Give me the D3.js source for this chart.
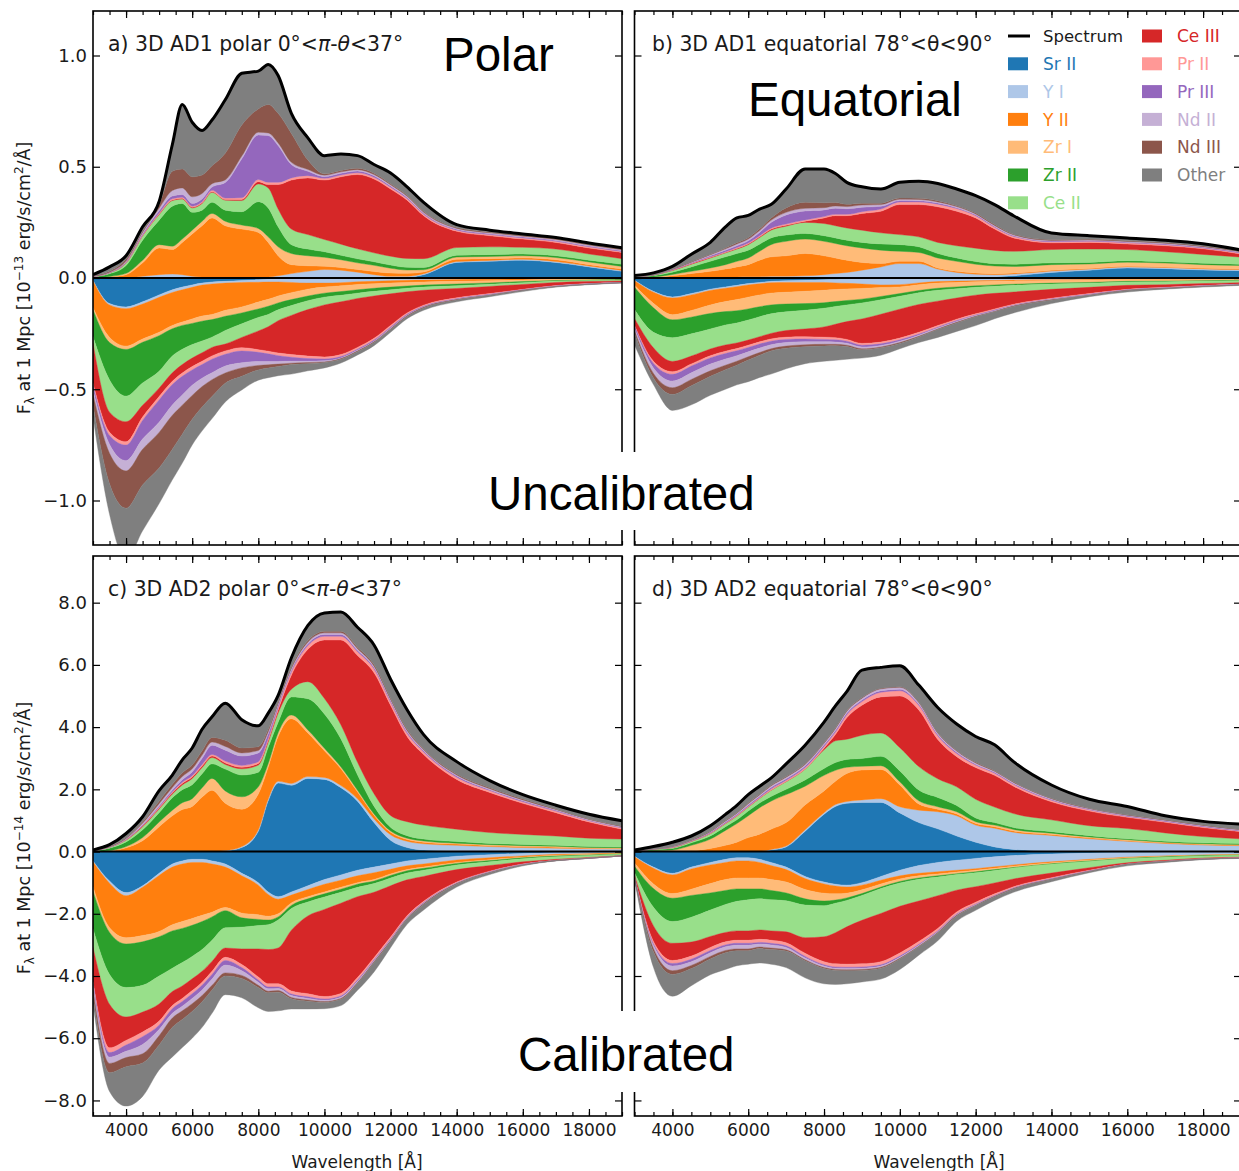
<!DOCTYPE html>
<html>
<head>
<meta charset="utf-8">
<script src="https://cdnjs.cloudflare.com/ajax/libs/d3/7.8.5/d3.min.js"></script>
<style>
body { margin: 0; background: #fff; }
svg text { font-family: "DejaVu Sans", Verdana, sans-serif; }
</style>
</head>
<body>
<svg id="fig" width="1239" height="1171"></svg>
<script>
// wavelength grid [Angstrom]
var wavelength = [3000,3500,4000,4500,5000,5400,5700,6000,6300,6600,7000,7500,8000,8300,8600,9000,9500,10000,10500,11000,11500,12000,12500,13000,14000,15000,16000,17000,18000,19000];

var species = ["Sr II","Y I","Y II","Zr I","Zr II","Ce II","Ce III","Pr II","Pr III","Nd II","Nd III","Other"];
var colors  = ["#1f77b4","#aec7e8","#ff7f0e","#ffbb78","#2ca02c","#98df8a","#d62728","#ff9896","#9467bd","#c5b0d5","#8c564b","#7f7f7f"];

var xTicks = [4000,6000,8000,10000,12000,14000,16000,18000];
var yTicksUncal = [-1.0,-0.5,0,0.5,1.0];
var yTicksCal = [-8,-6,-4,-2,0,2,4,6,8];

// each block: one row per species (same order as `species`), one value per wavelength
// a) 3D AD1 polar, emission (positive) [1e-13]
var ad1PolarEm = [
  [0,0,0,0,0,0,0,0,0,0,0,0,0,0,0,0,0,0,0,0,0,0,.003,.015,.07,.075,.08,.07,.05,.03],
  [0,0,0,.008,.015,.018,.015,.008,.005,.005,.005,.005,.005,.005,.01,.02,.03,.038,.035,.026,.015,.008,.005,.004,.004,.004,.004,.004,.004,.004],
  [0,.005,.015,.06,.12,.11,.145,.19,.23,.265,.23,.215,.2,.155,.09,.04,.025,.015,.012,.012,.014,.014,.013,.008,.01,.008,.006,.008,.006,.006],
  [0,.002,.006,.012,.015,.015,.015,.017,.02,.02,.02,.018,.018,.025,.04,.05,.045,.04,.035,.03,.028,.022,.015,.01,.01,.01,.01,.01,.012,.012],
  [.005,.012,.035,.09,.11,.18,.16,.08,.05,.05,.05,.06,.12,.13,.09,.04,.03,.025,.02,.018,.016,.014,.012,.01,.008,.008,.008,.008,.008,.01],
  [.002,.005,.012,.02,.025,.025,.02,.02,.03,.045,.045,.05,.08,.09,.08,.07,.065,.055,.05,.045,.04,.04,.04,.04,.035,.035,.03,.03,.028,.025],
  [0,0,0,0,.003,.003,.003,.003,.003,.003,.003,.005,.01,.015,.11,.22,.255,.267,.303,.334,.332,.302,.262,.193,.073,.05,.037,.03,.027,.028],
  [0,0,.002,.003,.004,.005,.005,.005,.005,.006,.006,.008,.01,.01,.01,.01,.01,.008,.008,.008,.008,.008,.007,.006,.005,.005,.005,.005,.005,.004],
  [0,.001,.003,.006,.01,.012,.012,.012,.012,.015,.07,.175,.2,.21,.165,.06,.02,.008,.008,.008,.007,.006,.005,.005,.004,.004,.004,.004,.004,.004],
  [0,.001,.003,.006,.012,.025,.03,.03,.025,.015,.012,.012,.012,.012,.012,.01,.008,.006,.006,.006,.005,.005,.005,.004,.004,.004,.004,.004,.004,.004],
  [.002,.004,.009,.005,.015,.087,.085,.09,.083,.08,.12,.14,.105,.128,.133,.13,.042,.006,.006,.006,.006,.005,.005,.005,.004,.004,.004,.004,.004,.004],
  [.006,.02,.015,.02,.015,.12,.29,.245,.2,.206,.24,.232,.17,.18,.17,.09,.1,.082,.074,.057,.039,.048,.038,.04,.013,.008,.006,.005,.005,.005]
];
// a) absorption (plotted negative)
var ad1PolarAb = [
  [.01,.115,.13,.107,.076,.053,.041,.031,.023,.018,.015,.011,.008,.006,.005,.004,.003,.003,.003,.002,.002,.002,.002,.002,.002,.002,.001,.001,.001,.001],
  [.003,.006,.008,.01,.011,.012,.012,.011,.009,.009,.008,.009,.011,.012,.013,.016,.02,.02,.018,.015,.013,.01,.008,.007,.005,.004,.003,.002,.002,.001],
  [.12,.146,.168,.157,.157,.148,.145,.142,.139,.137,.122,.11,.089,.078,.063,.046,.027,.018,.014,.012,.011,.011,.01,.009,.008,.006,.005,.003,.002,.002],
  [.01,.023,.015,.015,.015,.015,.015,.02,.023,.023,.027,.027,.031,.031,.031,.031,.031,.027,.026,.024,.02,.018,.016,.014,.012,.01,.007,.005,.004,.003],
  [.12,.168,.21,.183,.16,.122,.107,.095,.089,.079,.064,.049,.038,.037,.031,.027,.021,.018,.017,.015,.014,.012,.01,.009,.008,.006,.005,.003,.002,.002],
  [.03,.145,.115,.1,.076,.076,.069,.061,.053,.046,.061,.061,.061,.055,.049,.044,.04,.035,.029,.024,.021,.018,.016,.014,.012,.01,.008,.006,.005,.004],
  [.18,.09,.09,.053,.038,.038,.038,.038,.038,.038,.031,.046,.084,.11,.145,.176,.209,.234,.237,.22,.19,.142,.095,.067,.042,.032,.022,.014,.009,.006],
  [.01,.015,.015,.015,.015,.015,.015,.015,.015,.015,.015,.015,.012,.012,.012,.012,.011,.009,.009,.008,.008,.008,.006,.005,.004,.003,.002,.002,.001,.001],
  [.02,.04,.07,.084,.1,.092,.084,.069,.061,.061,.053,.053,.041,.034,.026,.018,.012,.008,.006,.005,.005,.005,.004,.003,.002,.002,.001,.001,.001,.001],
  [.02,.04,.046,.046,.046,.046,.046,.046,.038,.031,.031,.023,.018,.015,.012,.009,.006,.005,.003,.003,.003,.003,.003,.002,.002,.002,.001,.001,.001,0],
  [.05,.137,.168,.16,.16,.153,.13,.107,.092,.076,.046,.038,.02,.015,.011,.006,.005,.003,.003,.003,.003,.003,.003,.003,.002,.001,.001,.001,0,0],
  [.05,.137,.23,.206,.16,.137,.13,.115,.107,.099,.084,.061,.046,.043,.041,.043,.032,.024,.017,.015,.014,.012,.01,.01,.008,.006,.005,.002,.002,.001]
];
// b) 3D AD1 equatorial, emission [1e-13]
var ad1EquatEm = [
  [0,0,0,0,0,0,0,0,0,0,0,0,0,0,0,0,0,0,0,0,0,.002,.005,.01,.025,.035,.045,.042,.036,.033],
  [0,0,.002,.003,.004,.005,.005,.006,.006,.008,.008,.01,.015,.02,.025,.035,.05,.065,.065,.04,.025,.015,.01,.008,.006,.005,.005,.005,.005,.005],
  [0,.002,.008,.017,.026,.035,.045,.054,.074,.087,.092,.1,.085,.07,.055,.035,.015,.01,.01,.005,.005,.005,.004,.004,.004,.003,.003,.003,.003,.003],
  [0,.002,.006,.01,.015,.02,.025,.03,.04,.055,.065,.065,.065,.065,.065,.065,.06,.045,.04,.045,.045,.04,.035,.03,.025,.02,.018,.017,.016,.015],
  [.003,.006,.01,.02,.03,.035,.035,.035,.032,.03,.028,.025,.025,.025,.025,.025,.028,.03,.025,.02,.015,.012,.01,.01,.008,.007,.007,.006,.006,.006],
  [.002,.004,.008,.012,.015,.018,.02,.025,.03,.035,.04,.05,.055,.055,.055,.055,.05,.045,.045,.05,.055,.06,.06,.058,.06,.06,.05,.045,.04,.032],
  [0,0,.001,.002,.002,.002,.003,.003,.003,.004,.004,.005,.025,.045,.055,.075,.097,.135,.145,.16,.155,.136,.096,.06,.03,.03,.025,.027,.025,.014],
  [0,0,.001,.002,.003,.003,.004,.004,.005,.005,.006,.006,.006,.006,.006,.008,.01,.012,.012,.012,.012,.01,.008,.007,.005,.005,.005,.005,.004,.004],
  [0,0,.002,.003,.005,.007,.008,.01,.015,.025,.04,.04,.03,.028,.025,.02,.012,.006,.005,.005,.004,.004,.004,.003,.003,.003,.003,.003,.003,.003],
  [0,0,.001,.002,.004,.006,.008,.008,.008,.01,.012,.012,.01,.01,.01,.01,.008,.006,.006,.005,.005,.004,.004,.004,.003,.003,.003,.003,.003,.003],
  [0,0,.001,.002,.003,.004,.005,.006,.008,.01,.02,.028,.022,.015,.01,.008,.006,.005,.005,.005,.004,.004,.004,.003,.003,.003,.003,.003,.003,.002],
  [.006,.009,.012,.034,.053,.095,.112,.1,.089,.061,.085,.149,.152,.131,.099,.074,.064,.071,.077,.078,.075,.078,.09,.083,.03,.016,.013,.011,.01,.006]
];
// b) absorption
var ad1EquatAb = [
  [.01,.06,.085,.07,.05,.04,.033,.025,.02,.015,.012,.01,.008,.007,.006,.005,.005,.005,.004,.004,.004,.004,.004,.003,.003,.003,.002,.002,.002,.002],
  [.002,.004,.005,.006,.006,.006,.006,.006,.006,.006,.008,.01,.012,.015,.018,.022,.026,.025,.018,.012,.01,.008,.007,.006,.005,.004,.003,.003,.002,.002],
  [.02,.05,.075,.07,.065,.06,.058,.055,.05,.047,.044,.04,.035,.03,.025,.02,.012,.01,.008,.007,.006,.005,.004,.004,.003,.003,.002,.002,.002,.001],
  [.01,.02,.023,.03,.038,.045,.05,.053,.053,.053,.053,.055,.056,.054,.052,.048,.04,.03,.026,.023,.02,.018,.016,.015,.012,.01,.008,.007,.006,.005],
  [.1,.11,.08,.075,.07,.06,.055,.05,.045,.04,.035,.03,.025,.022,.02,.017,.015,.012,.01,.009,.008,.007,.006,.005,.004,.004,.003,.003,.002,.002],
  [.04,.07,.107,.1,.09,.09,.09,.09,.09,.088,.084,.084,.084,.08,.075,.072,.065,.058,.053,.049,.042,.035,.032,.03,.024,.018,.015,.013,.011,.009],
  [.03,.06,.046,.035,.03,.028,.025,.023,.023,.025,.03,.035,.046,.06,.08,.11,.125,.13,.125,.11,.095,.084,.07,.055,.04,.028,.018,.012,.009,.006],
  [.005,.01,.012,.01,.01,.01,.01,.01,.01,.01,.01,.01,.01,.01,.008,.008,.008,.008,.008,.007,.006,.005,.005,.004,.003,.003,.002,.002,.001,.001],
  [.01,.02,.03,.03,.028,.025,.022,.02,.018,.016,.014,.012,.01,.01,.009,.008,.007,.006,.005,.004,.004,.003,.003,.002,.002,.002,.001,.001,.001,.001],
  [.01,.025,.03,.03,.03,.028,.025,.022,.02,.018,.016,.014,.012,.01,.009,.008,.007,.006,.005,.004,.004,.003,.003,.002,.002,.002,.001,.001,.001,.001],
  [.01,.02,.03,.028,.025,.02,.018,.015,.012,.01,.01,.009,.008,.007,.006,.005,.004,.004,.003,.003,.003,.002,.002,.002,.002,.001,.001,.001,.001,.001],
  [.053,.03,.072,.086,.085,.088,.088,.097,.1,.104,.092,.076,.068,.065,.057,.037,.033,.024,.025,.035,.038,.04,.031,.029,.015,.006,.007,.003,.003,.002]
];
// c) 3D AD2 polar, emission [1e-14]
var ad2PolarEm = [
  [0,0,0,0,0,0,0,0,0,0,.02,.13,.65,1.63,2.2,2.13,2.35,2.32,2.05,1.62,.93,.36,.13,.05,.02,.01,.01,.01,.01,.01],
  [0,0,0,0,0,0,0,0,0,0,.01,.03,.05,.06,.06,.06,.06,.06,.07,.08,.12,.18,.2,.2,.18,.15,.12,.1,.08,.07],
  [0,.02,.12,.35,.8,1.15,1.35,1.45,1.75,1.97,1.52,1.2,1.15,1.03,1.44,2.08,1.4,.86,.54,.22,.12,.08,.06,.05,.04,.03,.03,.03,.02,.02],
  [0,.01,.04,.1,.15,.18,.22,.25,.3,.38,.4,.4,.23,.11,.12,.12,.1,.08,.06,.05,.04,.04,.04,.04,.03,.03,.03,.03,.02,.02],
  [.02,.08,.15,.25,.3,.4,.42,.45,.45,.47,.7,.7,.47,.52,.34,.58,1.0,1.1,.9,.5,.25,.12,.08,.06,.05,.04,.04,.03,.03,.03],
  [.01,.03,.06,.1,.12,.12,.15,.2,.2,.2,.15,.2,.23,.17,.29,.25,.55,.5,.45,.4,.4,.38,.45,.45,.4,.35,.32,.3,.27,.25],
  [0,0,.01,.02,.03,.04,.05,.05,.05,.05,.05,.05,.05,.06,.1,.45,1.04,1.88,2.73,3.43,3.89,3.54,2.74,2.27,1.6,1.29,1.0,.75,.52,.32],
  [0,0,.01,.02,.03,.03,.04,.04,.05,.05,.06,.06,.06,.06,.08,.1,.12,.12,.12,.12,.12,.1,.1,.08,.07,.06,.05,.05,.04,.04],
  [0,0,.01,.02,.04,.06,.08,.12,.2,.3,.35,.3,.28,.15,.08,.06,.06,.06,.06,.05,.05,.05,.05,.04,.04,.03,.03,.03,.02,.02],
  [0,.01,.02,.05,.07,.08,.1,.1,.1,.1,.12,.1,.08,.06,.05,.05,.05,.05,.05,.05,.04,.04,.04,.03,.03,.03,.03,.02,.02,.02],
  [0,.01,.02,.04,.08,.1,.12,.12,.14,.15,.2,.16,.12,.08,.05,.05,.05,.05,.05,.05,.05,.04,.04,.03,.03,.03,.03,.02,.02,.02],
  [.02,.06,.14,.17,.34,.3,.42,.55,.69,.66,1.19,.91,.67,.52,.21,.3,.49,.59,.62,.64,.63,.61,.63,.46,.4,.23,.14,.12,.15,.17]
];
// c) absorption
var ad2PolarAb = [
  [.3,.95,1.32,1.1,.7,.4,.3,.25,.25,.3,.4,.7,1.0,1.3,1.45,1.3,1.1,.9,.75,.6,.5,.4,.3,.25,.15,.1,.06,.04,.03,.02],
  [.03,.07,.1,.05,.07,.1,.1,.1,.1,.1,.1,.08,.08,.08,.08,.1,.12,.15,.17,.18,.18,.17,.16,.15,.12,.1,.08,.05,.04,.02],
  [.8,1.43,1.35,1.55,1.8,1.85,1.85,1.8,1.7,1.55,1.3,1.2,.95,.7,.47,.25,.23,.25,.23,.22,.22,.15,.12,.1,.08,.06,.04,.03,.02,.02],
  [.15,.15,.2,.2,.17,.2,.22,.22,.2,.15,.1,.15,.15,.12,.1,.08,.07,.06,.06,.05,.05,.05,.04,.04,.03,.03,.02,.02,.02,.01],
  [1.2,1.35,1.4,1.4,1.26,1.2,1.1,1.0,.9,.75,.55,.3,.2,.15,.1,.1,.1,.1,.1,.1,.08,.08,.07,.06,.05,.04,.03,.03,.02,.02],
  [.6,.96,.95,.86,.9,.75,.75,.72,.7,.68,.65,.7,.75,.8,.9,.7,.45,.4,.35,.3,.28,.25,.22,.2,.15,.12,.1,.08,.06,.04],
  [1.1,1.4,.75,.64,.55,.45,.4,.38,.35,.32,.3,.5,.9,1.1,1.15,1.95,2.5,2.8,2.9,2.6,2.1,1.65,1.15,.8,.4,.18,.07,.03,.02,.01],
  [.08,.15,.15,.15,.13,.1,.1,.1,.1,.1,.1,.1,.1,.1,.1,.1,.1,.08,.08,.08,.07,.06,.05,.04,.03,.02,.01,.01,.005,0],
  [.06,.15,.2,.25,.14,.15,.15,.15,.15,.15,.15,.1,.07,.06,.05,.05,.05,.04,.04,.04,.03,.03,.02,.02,.01,.01,.01,0,0,0],
  [.12,.2,.2,.3,.2,.15,.15,.17,.18,.2,.25,.15,.1,.08,.07,.06,.05,.04,.04,.04,.03,.03,.02,.02,.01,.01,.01,0,0,0],
  [.2,.3,.3,.3,.3,.3,.28,.25,.2,.15,.1,.1,.07,.05,.05,.04,.04,.03,.03,.03,.03,.02,.02,.02,.01,.01,0,0,0,0],
  [.26,.6,1.26,1.07,.8,.95,.9,.86,.82,.75,.6,.62,.65,.6,.6,.33,.25,.2,.2,.22,.3,.2,.17,.18,.1,.06,.03,.01,.005,0]
];
// d) 3D AD2 equatorial, emission [1e-14]
var ad2EquatEm = [
  [0,0,0,0,0,0,0,0,0,.05,.15,.65,1.2,1.45,1.55,1.58,1.58,1.24,.93,.73,.5,.3,.15,.07,.02,.01,.01,.01,.01,.01],
  [0,0,0,0,0,0,0,0,.01,.02,.03,.05,.05,.06,.06,.08,.12,.2,.4,.55,.65,.55,.6,.55,.5,.4,.32,.25,.2,.18],
  [0,.01,.02,.03,.1,.2,.3,.45,.55,.65,.75,.8,.7,.75,.9,.96,.94,.7,.2,.08,.06,.05,.05,.04,.03,.03,.02,.02,.02,.02],
  [0,.02,.03,.17,.3,.48,.6,.7,.85,.9,.9,.6,.5,.35,.2,.12,.12,.1,.1,.08,.07,.06,.05,.05,.04,.03,.03,.02,.02,.02],
  [.01,.03,.05,.08,.1,.12,.12,.15,.15,.15,.17,.2,.22,.25,.25,.25,.3,.35,.35,.3,.2,.12,.08,.06,.05,.04,.03,.03,.03,.03],
  [.01,.02,.03,.05,.08,.1,.12,.13,.15,.2,.25,.35,.6,.7,.65,.75,.75,.75,.75,.6,.6,.6,.5,.45,.38,.32,.33,.27,.2,.15],
  [0,0,0,0,0,0,0,0,0,0,0,0,.05,.2,.69,.96,1.16,1.66,1.82,1.26,.97,1.02,1.02,.88,.58,.47,.36,.34,.29,.23],
  [0,0,.01,.01,.02,.02,.03,.03,.03,.04,.04,.05,.06,.08,.1,.12,.15,.17,.15,.12,.1,.08,.07,.06,.05,.04,.03,.03,.03,.02],
  [0,0,.01,.01,.02,.03,.03,.04,.04,.05,.05,.05,.05,.05,.05,.05,.05,.05,.04,.04,.04,.03,.03,.03,.02,.02,.02,.02,.02,.02],
  [0,0,.01,.01,.02,.03,.03,.04,.04,.05,.05,.05,.05,.06,.06,.06,.06,.06,.05,.05,.04,.04,.03,.03,.03,.02,.02,.02,.02,.02],
  [0,0,.005,.01,.01,.015,.015,.02,.02,.02,.02,.02,.02,.02,.02,.02,.02,.02,.02,.02,.02,.02,.02,.02,.01,.01,.01,.01,.01,.01],
  [.03,.08,.135,.13,.18,.2,.24,.27,.26,.23,.41,.6,.66,.71,.61,.88,.67,.67,.54,.8,.85,.83,.83,.65,.43,.29,.27,.13,.12,.17]
];
// d) absorption
var ad2EquatAb = [
  [.15,.5,.7,.5,.35,.25,.2,.2,.25,.35,.5,.8,.98,1.05,1.08,1.0,.8,.6,.45,.35,.28,.22,.17,.13,.08,.05,.03,.02,.01,.01],
  [.02,.04,.05,.06,.08,.1,.1,.1,.1,.1,.08,.07,.06,.06,.06,.08,.12,.18,.25,.3,.32,.33,.32,.3,.25,.2,.15,.12,.1,.08],
  [.2,.5,.6,.65,.6,.55,.55,.55,.5,.45,.4,.35,.3,.25,.2,.15,.12,.1,.08,.07,.06,.05,.05,.04,.03,.02,.02,.01,.01,.01],
  [.1,.15,.15,.2,.3,.35,.35,.35,.35,.35,.35,.3,.25,.2,.15,.12,.1,.08,.07,.06,.05,.05,.04,.04,.03,.03,.02,.02,.01,.01],
  [.2,.6,.75,.7,.55,.45,.4,.35,.32,.3,.25,.2,.15,.1,.08,.06,.05,.05,.04,.04,.03,.03,.03,.02,.02,.02,.01,.01,.01,.01],
  [.1,.6,.7,.8,.85,.9,.95,1.0,1.0,1.0,1.0,1.05,1.0,.95,.85,.8,.8,.75,.7,.6,.5,.45,.4,.35,.28,.2,.13,.1,.07,.06],
  [.05,.5,.55,.45,.35,.3,.3,.3,.3,.3,.35,.5,.8,1.0,1.2,1.4,1.55,1.5,1.3,1.05,.7,.5,.35,.25,.15,.08,.04,.03,.02,.02],
  [.01,.08,.1,.1,.1,.1,.1,.1,.1,.1,.1,.1,.1,.1,.1,.1,.1,.1,.09,.08,.07,.06,.05,.04,.03,.02,.01,.01,.01,.01],
  [.01,.05,.08,.08,.07,.06,.06,.06,.05,.05,.05,.05,.04,.04,.04,.04,.04,.04,.03,.03,.02,.02,.02,.01,.01,.01,0,0,0,0],
  [.01,.1,.15,.12,.12,.12,.12,.12,.1,.1,.08,.06,.05,.04,.04,.04,.04,.03,.03,.02,.02,.02,.01,.01,.01,.01,0,0,0,0],
  [.01,.1,.12,.1,.08,.07,.06,.06,.05,.05,.04,.03,.03,.03,.03,.03,.03,.02,.02,.02,.02,.01,.01,.01,.01,0,0,0,0,0],
  [.04,.5,.7,.55,.51,.54,.48,.43,.46,.47,.53,.55,.49,.45,.42,.37,.35,.34,.27,.25,.17,.15,.12,.11,.07,.04,.05,.03,.02,.01]
];

var svg = d3.select("#fig");
svg.append("rect").attr("width", 1239).attr("height", 1171).attr("fill", "#fff");

var leftCol = { x0: 93, x1: 622 }, rightCol = { x0: 634.5, x1: 1241 };
var topRow = { y0: 11, y1: 545 }, botRow = { y0: 556, y1: 1116 };

function rows(block) {
  return wavelength.map(function(w, i) {
    var r = { w: w };
    species.forEach(function(s, k) { r[s] = block[k][i]; });
    return r;
  });
}

function drawPanel(p) {
  var x = d3.scaleLinear().domain([3000, 19000]).range([p.x0, p.x1]);
  var y = d3.scaleLinear().domain(p.yDomain).range([p.y1, p.y0]);
  var g = svg.append("g");

  svg.append("clipPath").attr("id", "clip" + p.id)
    .append("rect").attr("x", p.x0).attr("y", p.y0)
    .attr("width", p.x1 - p.x0).attr("height", p.y1 - p.y0);
  var plot = g.append("g").attr("clip-path", "url(#clip" + p.id + ")");

  var stack = d3.stack().keys(species);
  var em = stack(rows(p.em));
  var ab = stack(rows(p.ab));

  var up = d3.area().curve(d3.curveMonotoneX)
    .x(function(d) { return x(d.data.w); })
    .y0(function(d) { return y(d[0]); })
    .y1(function(d) { return y(d[1]); });
  var down = d3.area().curve(d3.curveMonotoneX)
    .x(function(d) { return x(d.data.w); })
    .y0(function(d) { return y(-d[0]); })
    .y1(function(d) { return y(-d[1]); });

  plot.selectAll("path.em").data(em).enter().append("path")
    .attr("class", "em").attr("d", up)
    .attr("fill", function(d, i) { return colors[i]; })
    .attr("stroke", function(d, i) { return colors[i]; }).attr("stroke-width", 0.4);
  plot.selectAll("path.ab").data(ab).enter().append("path")
    .attr("class", "ab").attr("d", down)
    .attr("fill", function(d, i) { return colors[i]; })
    .attr("stroke", function(d, i) { return colors[i]; }).attr("stroke-width", 0.4);

  plot.append("line")
    .attr("x1", p.x0).attr("x2", p.x1).attr("y1", y(0)).attr("y2", y(0))
    .attr("stroke", "#000").attr("stroke-width", 2);

  // spectrum = top of the emission stack
  var line = d3.line().curve(d3.curveMonotoneX)
    .x(function(d) { return x(d.data.w); })
    .y(function(d) { return y(d[1]); });
  plot.append("path").datum(em[em.length - 1]).attr("d", line)
    .attr("fill", "none").attr("stroke", "#000").attr("stroke-width", 3)
    .attr("stroke-linejoin", "round");

  // ticks, all pointing inwards
  var minor = d3.range(3000, 19001, 500);
  function clean(sel) {
    sel.select(".domain").remove();
    sel.selectAll("line").attr("stroke", "#000").attr("stroke-width", 1.2);
    sel.attr("font-family", null).attr("font-size", null);
    sel.selectAll("text").attr("fill", "#1a1a1a");
  }
  g.append("g").attr("transform", "translate(0," + p.y1 + ")")
    .call(d3.axisBottom(x).tickValues(minor).tickSize(-4).tickFormat("")).call(clean);
  g.append("g").attr("transform", "translate(0," + p.y0 + ")")
    .call(d3.axisTop(x).tickValues(minor).tickSize(-4).tickFormat("")).call(clean);
  var bx = g.append("g").attr("transform", "translate(0," + p.y1 + ")")
    .call(d3.axisBottom(x).tickValues(xTicks).tickSize(-7).tickPadding(8)
      .tickFormat(p.xLabels ? d3.format("d") : "")).call(clean);
  bx.selectAll("text").style("font-size", "17px");
  g.append("g").attr("transform", "translate(0," + p.y0 + ")")
    .call(d3.axisTop(x).tickValues(xTicks).tickSize(-7).tickFormat("")).call(clean);
  var ly = g.append("g").attr("transform", "translate(" + p.x0 + ",0)")
    .call(d3.axisLeft(y).tickValues(p.yTicks).tickSize(-7).tickPadding(6)
      .tickFormat(p.yLabels ? d3.format(".1f") : "")).call(clean);
  ly.selectAll("text").style("font-size", "18px");
  g.append("g").attr("transform", "translate(" + p.x1 + ",0)")
    .call(d3.axisRight(y).tickValues(p.yTicks).tickSize(-7).tickFormat("")).call(clean);

  g.append("rect").attr("x", p.x0).attr("y", p.y0)
    .attr("width", p.x1 - p.x0).attr("height", p.y1 - p.y0)
    .attr("fill", "none").attr("stroke", "#000").attr("stroke-width", 1.6);

  // panel title
  var t = g.append("text").attr("x", p.titleX).attr("y", p.y0 + 40)
    .style("font-size", "20.4px").attr("fill", "#1a1a1a");
  p.title.forEach(function(part) {
    var s = t.append("tspan").text(part[0]);
    if (part[1]) s.style("font-style", "italic");
  });
}

var polarTitle = function(tag, model) {
  return [[tag + ") 3D " + model + " polar 0°<"], ["π", true], ["-"], ["θ", true], ["<37°"]];
};
var equatTitle = function(tag, model) {
  return [[tag + ") 3D " + model + " equatorial 78°<θ<90°"]];
};

drawPanel({ id: "a", x0: leftCol.x0, x1: leftCol.x1, y0: topRow.y0, y1: topRow.y1, yDomain: [-1.2, 1.2], yTicks: yTicksUncal,
  em: ad1PolarEm, ab: ad1PolarAb, yLabels: true, xLabels: false, titleX: 108, title: polarTitle("a", "AD1") });
drawPanel({ id: "b", x0: rightCol.x0, x1: rightCol.x1, y0: topRow.y0, y1: topRow.y1, yDomain: [-1.2, 1.2], yTicks: yTicksUncal,
  em: ad1EquatEm, ab: ad1EquatAb, yLabels: false, xLabels: false, titleX: 652, title: equatTitle("b", "AD1") });
drawPanel({ id: "c", x0: leftCol.x0, x1: leftCol.x1, y0: botRow.y0, y1: botRow.y1, yDomain: [-8.5, 9.5], yTicks: yTicksCal,
  em: ad2PolarEm, ab: ad2PolarAb, yLabels: true, xLabels: true, titleX: 108, title: polarTitle("c", "AD2") });
drawPanel({ id: "d", x0: rightCol.x0, x1: rightCol.x1, y0: botRow.y0, y1: botRow.y1, yDomain: [-8.5, 9.5], yTicks: yTicksCal,
  em: ad2EquatEm, ab: ad2EquatAb, yLabels: false, xLabels: true, titleX: 652, title: equatTitle("d", "AD2") });

// axis labels
function yLabel(cy, exp) {
  var t = svg.append("text").attr("transform", "translate(30," + cy + ") rotate(-90)")
    .attr("text-anchor", "middle").style("font-size", "17.5px").attr("fill", "#1a1a1a");
  t.append("tspan").text("F");
  t.append("tspan").text("λ").attr("dy", 4).style("font-size", "12px");
  t.append("tspan").text(" at 1 Mpc [10").attr("dy", -4);
  t.append("tspan").text(exp).attr("dy", -7).style("font-size", "12px");
  t.append("tspan").text(" erg/s/cm").attr("dy", 7);
  t.append("tspan").text("2").attr("dy", -7).style("font-size", "12px");
  t.append("tspan").text("/Å]").attr("dy", 7);
}
yLabel(278, "−13");
yLabel(838, "−14");

[[357, "Wavelength [Å]"], [939, "Wavelength [Å]"]].forEach(function(d) {
  svg.append("text").attr("x", d[0]).attr("y", 1168).attr("text-anchor", "middle")
    .style("font-size", "17px").attr("fill", "#1a1a1a").text(d[1]);
});

// overlay captions
var big = [
  { text: "Polar", x: 443, y: 71 },
  { text: "Equatorial", x: 748, y: 116 },
  { text: "Uncalibrated", x: 488, y: 510, box: [478, 452, 290, 78] },
  { text: "Calibrated", x: 518, y: 1071, box: [508, 1011, 240, 81] }
];
big.forEach(function(b) {
  if (b.box) svg.append("rect").attr("x", b.box[0]).attr("y", b.box[1])
    .attr("width", b.box[2]).attr("height", b.box[3]).attr("fill", "#fff");
  svg.append("text").attr("x", b.x).attr("y", b.y)
    .style("font-family", "'Liberation Sans', Arial, sans-serif").style("font-size", "47.5px")
    .attr("fill", "#000").text(b.text);
});

// legend
var lg = svg.append("g");
var rowY = function(i) { return 36 + i * 27.8; };
lg.append("line").attr("x1", 1008).attr("x2", 1030).attr("y1", rowY(0)).attr("y2", rowY(0))
  .attr("stroke", "#000").attr("stroke-width", 3);
lg.append("text").attr("x", 1043).attr("y", rowY(0)).attr("dy", "0.36em")
  .style("font-size", "16.5px").attr("fill", "#1a1a1a").text("Spectrum");
species.forEach(function(s, i) {
  var col = i < 6 ? 0 : 1;
  var r = i < 6 ? i + 1 : i - 6;
  var px = col === 0 ? 1008 : 1142;
  lg.append("rect").attr("x", px).attr("y", rowY(r) - 6.5).attr("width", 20).attr("height", 13)
    .attr("fill", colors[i]);
  lg.append("text").attr("x", px + 35).attr("y", rowY(r)).attr("dy", "0.36em")
    .style("font-size", "17px").attr("fill", colors[i]).text(s);
});
</script>
</body>
</html>
